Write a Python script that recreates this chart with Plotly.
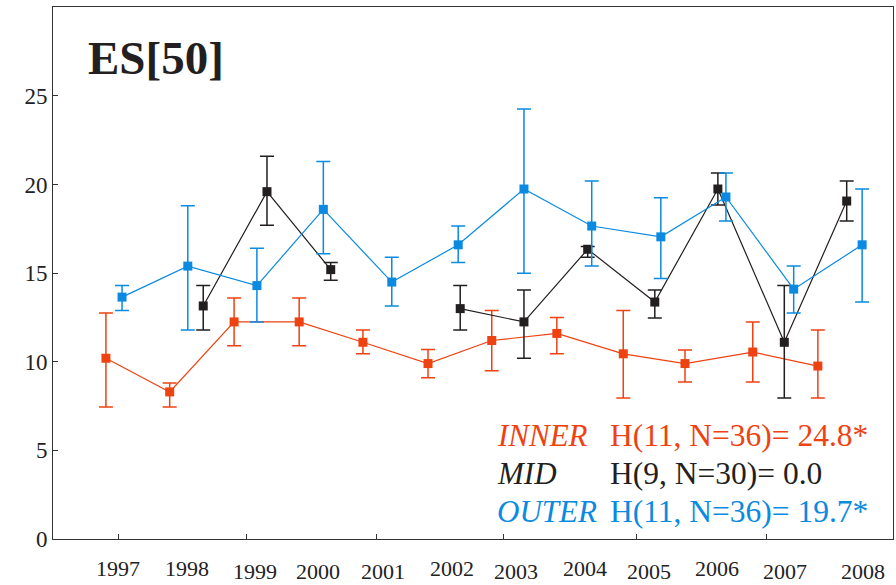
import plotly.graph_objects as go

# ---- data ----
years = [1997, 1998, 1999, 2000, 2001, 2002, 2003, 2004, 2005, 2006, 2007, 2008]

# plotted x positions (in year units) for each group
inner_x = [1996.82, 1997.77, 1998.73, 1999.70, 2000.65, 2001.62, 2002.57, 2003.54, 2004.53, 2005.45, 2006.46, 2007.43]
mid_x = [1997.27, 1998.27, 1999.22, 2000.17, 2001.10, 2002.10, 2003.05, 2004.00, 2005.00, 2005.94, 2006.93, 2007.86]
outer_x = [1997.06, 1998.04, 1999.07, 2000.06, 2001.08, 2002.07, 2003.05, 2004.06, 2005.09, 2006.06, 2007.07, 2008.09]

inner_val = [10.2, 8.3, 12.25, 12.25, 11.1, 9.9, 11.2, 11.6, 10.45, 9.9, 10.55, 9.76]
inner_hi = [12.75, 8.8, 13.6, 13.6, 11.8, 10.7, 12.9, 12.5, 12.9, 10.67, 12.25, 11.8]
inner_lo = [7.45, 7.45, 10.9, 10.9, 10.45, 9.1, 9.5, 10.45, 7.95, 8.86, 8.86, 7.95]

mid_val = [None, 13.15, 19.6, 15.2, None, 13.0, 12.25, 16.35, 13.37, 19.75, 11.1, 19.07]
mid_hi = [None, 14.3, 21.6, 15.6, None, 14.3, 14.05, 16.5, 14.05, 20.65, 14.3, 20.2]
mid_lo = [None, 11.8, 17.7, 14.6, None, 11.8, 10.2, 15.9, 12.47, 18.85, 7.95, 17.95]

outer_val = [13.65, 15.4, 14.3, 18.6, 14.5, 16.6, 19.75, 17.66, 17.05, 19.3, 14.1, 16.6]
outer_hi = [14.3, 18.8, 16.4, 21.3, 15.9, 17.66, 24.27, 20.2, 19.25, 20.65, 15.4, 19.75]
outer_lo = [12.9, 11.8, 12.25, 16.1, 13.15, 15.6, 15.0, 15.4, 14.7, 17.95, 12.75, 13.37]

# x-axis year label positions and tick marks
label_x = [1997.0, 1998.03, 1999.04, 1999.98, 2000.95, 2001.98, 2002.93, 2003.96, 2004.91, 2005.93, 2006.94, 2008.10]
label_drop = [0, 0, 1, 1, 1, 0, 1, 0, 1, 0, 1, 1]
tick_x = [1997.0, 1998.92, 2000.845, 2002.75, 2004.73, 2006.66]

series_names = ["INNER", "MID", "OUTER"]
stats_text = ["H(11, N=36)= 24.8*", "H(9, N=30)= 0.0", "H(11, N=36)= 19.7*"]
title_text = "ES[50]"

RED = "#EE4210"
BLACK = "#231F20"
BLUE = "#0A8AE0"


def errs(val, hi, lo):
    up = [None if v is None else h - v for v, h in zip(val, hi)]
    dn = [None if v is None else v - l for v, l in zip(val, lo)]
    return up, dn


fig = go.Figure()
for xs, val, hi, lo, col in [
    (inner_x, inner_val, inner_hi, inner_lo, RED),
    (mid_x, mid_val, mid_hi, mid_lo, BLACK),
    (outer_x, outer_val, outer_hi, outer_lo, BLUE),
]:
    up, dn = errs(val, hi, lo)
    fig.add_trace(go.Scatter(
        x=xs, y=val, mode="lines+markers",
        line=dict(color=col, width=1.2),
        marker=dict(symbol="square", size=9, color=col),
        error_y=dict(type="data", symmetric=False, array=up, arrayminus=dn,
                     color=col, thickness=1.5, width=7),
        connectgaps=False, showlegend=False,
    ))

axis_col = "#333333"
fig.update_layout(
    width=896, height=585,
    margin=dict(l=53, r=3, t=7, b=46),
    paper_bgcolor="white", plot_bgcolor="white",
    font=dict(family="Liberation Serif", color="#222222"),
    xaxis=dict(range=[1996.031, 2008.55], showgrid=False, zeroline=False,
               showline=True, mirror=True, linecolor=axis_col, linewidth=1,
               tickmode="array", tickvals=tick_x, ticktext=[""] * len(tick_x),
               ticks="inside", ticklen=5, tickcolor=axis_col),
    yaxis=dict(range=[0, 30.02], showgrid=False, zeroline=False,
               showline=True, mirror=True, linecolor=axis_col, linewidth=1,
               tickmode="array", tickvals=[0, 5, 10, 15, 20, 25],
               ticks="inside", ticklen=5, tickcolor=axis_col,
               tickfont=dict(size=23, family="Liberation Serif", color="#222222")),
)

# staggered year labels
for lx, yr, d in zip(label_x, years, label_drop):
    fig.add_annotation(x=lx, y=0, xref="x", yref="paper", text=str(yr),
                       showarrow=False, xanchor="center", yanchor="middle",
                       yshift=-29 - 3 * d, borderpad=0,
                       font=dict(size=22, family="Liberation Serif", color="#222222"))

# title
fig.add_annotation(x=0.039, y=0.905, xref="paper", yref="paper", text="<b>" + title_text + "</b>",
                   showarrow=False, xanchor="left", yanchor="middle",
                   font=dict(size=47, family="Liberation Serif", color="#231F20"))

# group statistics
row_y = [0.194, 0.124, 0.051]
for name, st, col, ry in zip(series_names, stats_text, [RED, BLACK, BLUE], row_y):
    fig.add_annotation(x=0.526, y=ry, xref="paper", yref="paper", text="<i>" + name + "</i>",
                       showarrow=False, xanchor="left", yanchor="middle",
                       font=dict(size=31, family="Liberation Serif", color=col))
    fig.add_annotation(x=0.661, y=ry, xref="paper", yref="paper", text=st,
                       showarrow=False, xanchor="left", yanchor="middle",
                       font=dict(size=31.5, family="Liberation Serif", color=col))

fig.write_html("out.html")
